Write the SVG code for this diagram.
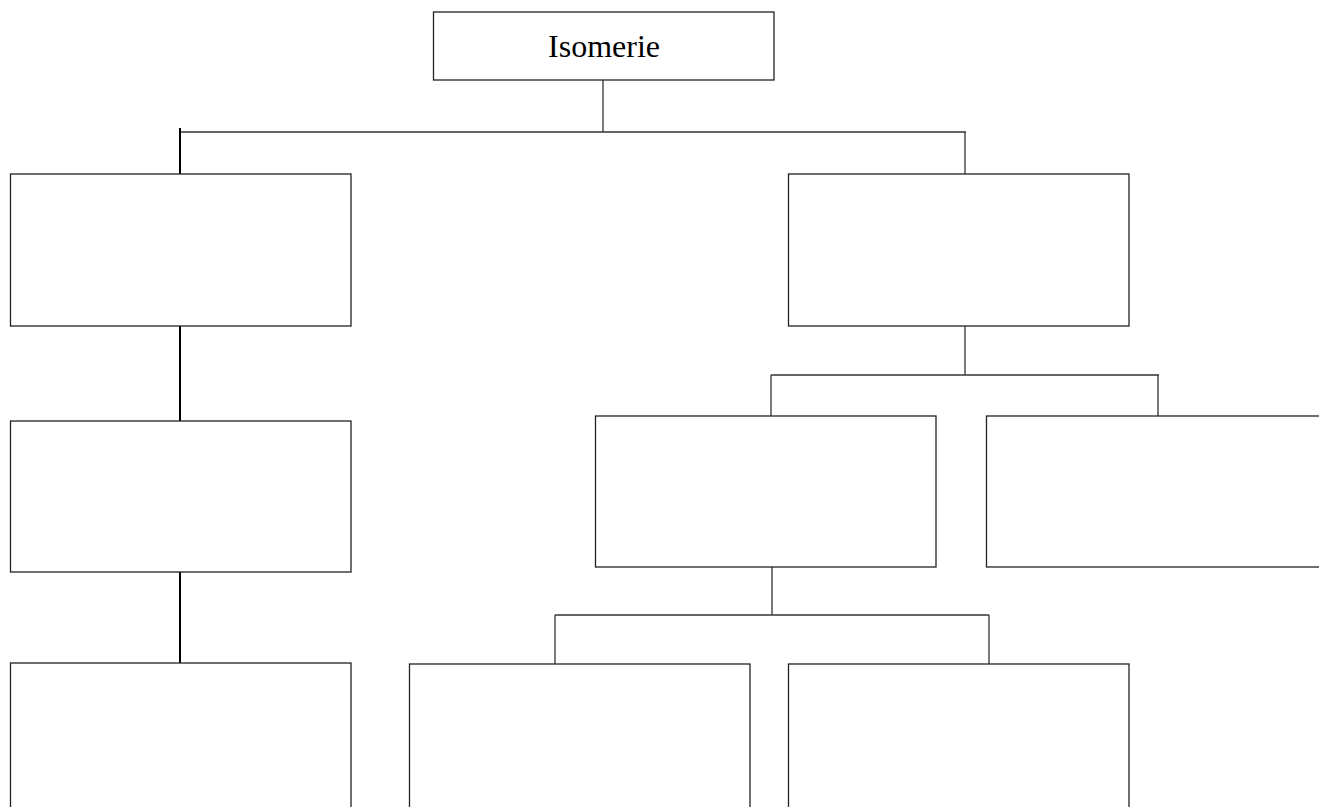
<svg xmlns="http://www.w3.org/2000/svg" width="1319" height="807" viewBox="0 0 1319 807">
<style>
.box{fill:#fff;stroke:#222;stroke-width:1.3}
.ln{stroke:#333;stroke-width:1.3;fill:none}
.thick{stroke:#000;stroke-width:2;fill:none}
.t{font-family:"Liberation Serif","Times New Roman",serif;font-size:32px;fill:#000}
</style>
<rect width="1319" height="807" fill="#fff"/>
<g id="connectors">
<line class="ln" x1="603" y1="80" x2="603" y2="132"/>
<line class="ln" x1="180" y1="132" x2="966" y2="132"/>
<line class="thick" x1="180" y1="128" x2="180" y2="174"/>
<line class="ln" x1="965" y1="132" x2="965" y2="174"/>
<line class="thick" x1="180" y1="326" x2="180" y2="421"/>
<line class="thick" x1="180" y1="572" x2="180" y2="663"/>
<line class="ln" x1="965" y1="326" x2="965" y2="375"/>
<line class="ln" x1="771" y1="375" x2="1159" y2="375"/>
<line class="ln" x1="771" y1="375" x2="771" y2="416"/>
<line class="ln" x1="1158" y1="375" x2="1158" y2="416"/>
<line class="ln" x1="772" y1="567" x2="772" y2="615"/>
<line class="ln" x1="555" y1="615" x2="989" y2="615"/>
<line class="ln" x1="555" y1="615" x2="555" y2="664"/>
<line class="ln" x1="989" y1="615" x2="989" y2="664"/>
</g>
<g id="root"><rect class="box" x="433.5" y="12" width="340.5" height="68"/><text class="t" x="604" y="57" text-anchor="middle">Isomerie</text></g>
<g id="left1"><rect class="box" x="10.5" y="174" width="340.5" height="152"/></g>
<g id="right1"><rect class="box" x="788.5" y="174" width="340.5" height="152"/></g>
<g id="left2"><rect class="box" x="10.5" y="421" width="340.5" height="151"/></g>
<g id="mid2"><rect class="box" x="595.5" y="416" width="340.5" height="151"/></g>
<g id="right2"><rect class="box" x="986.5" y="416" width="345" height="151"/></g>
<g id="left3"><rect class="box" x="10.5" y="663" width="340.5" height="160"/></g>
<g id="mid3"><rect class="box" x="409.5" y="664" width="340.5" height="160"/></g>
<g id="right3"><rect class="box" x="788.5" y="664" width="340.5" height="160"/></g>
</svg>
